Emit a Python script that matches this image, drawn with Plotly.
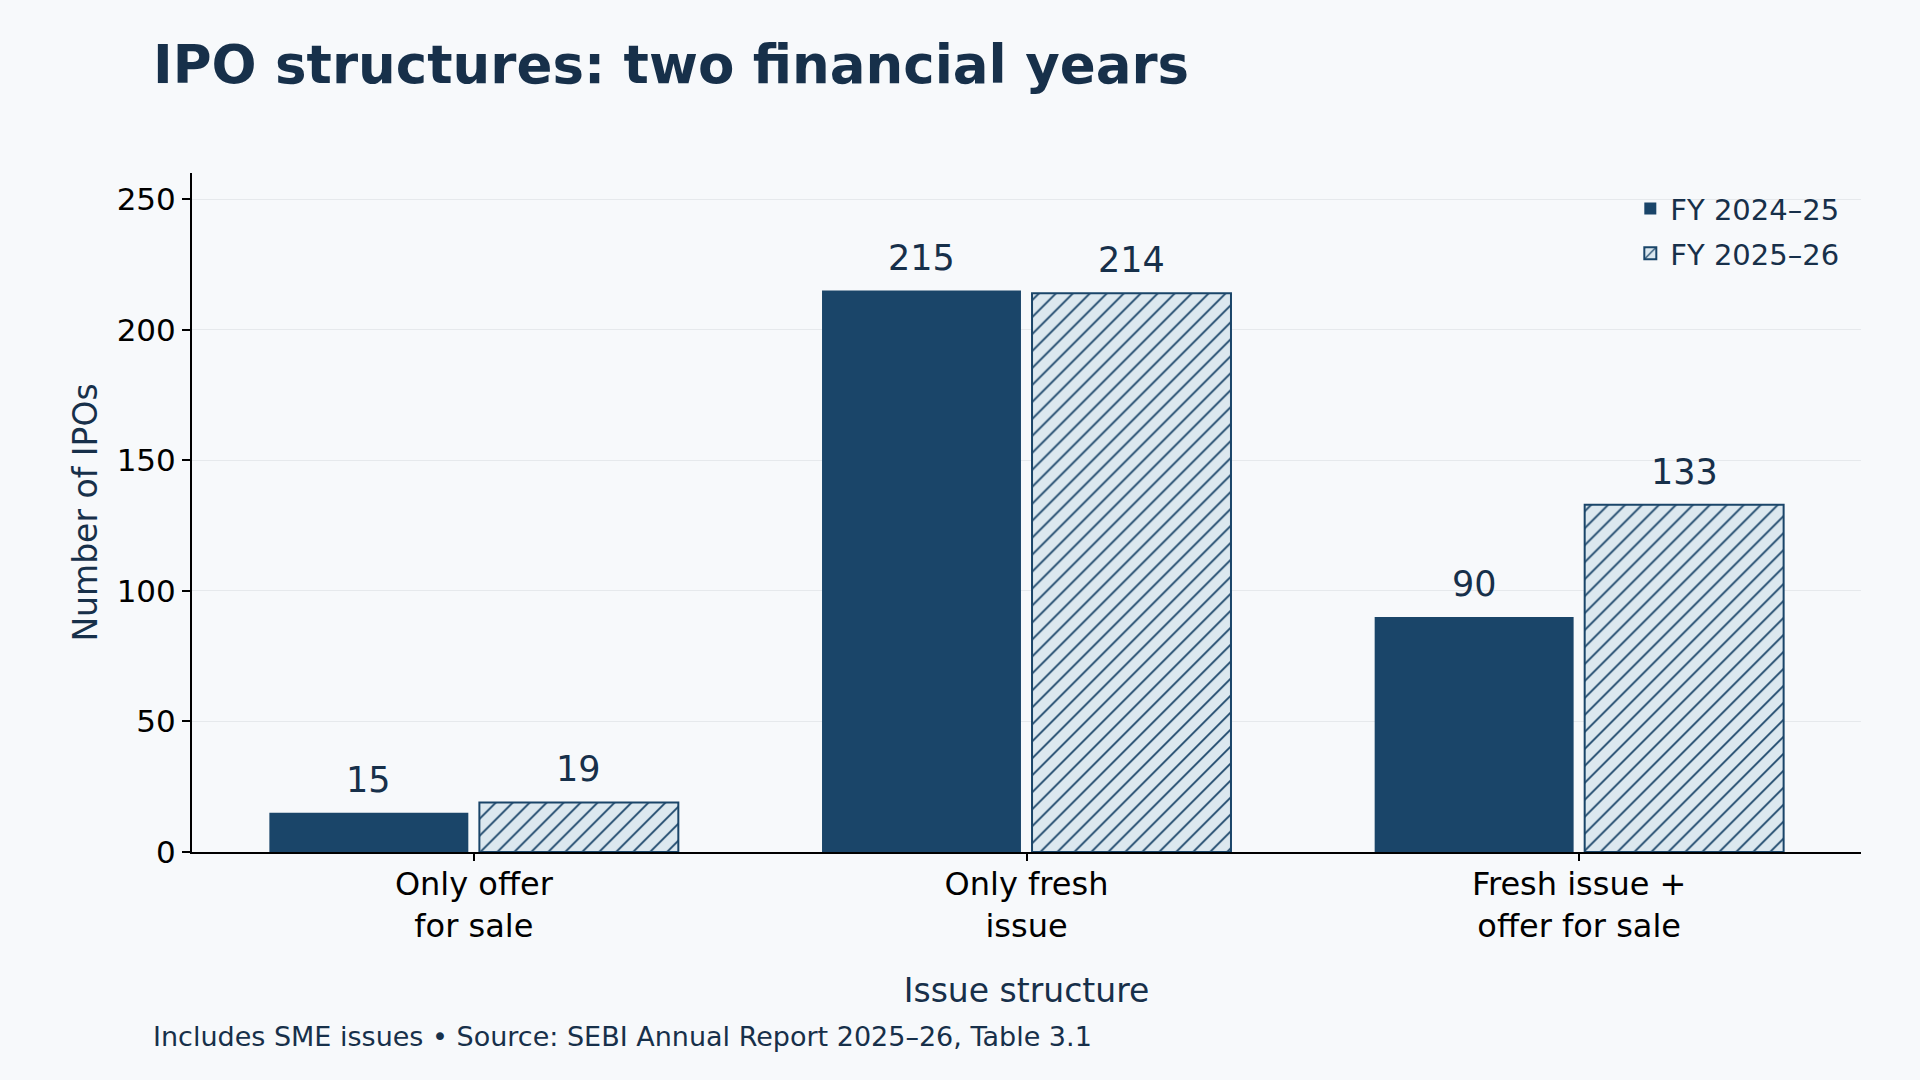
import plotly.graph_objects as pgo

categories = ['Only offer<br>for sale', 'Only fresh<br>issue', 'Fresh issue +<br>offer for sale']
fy_2024_25 = [15, 215, 90]
fy_2025_26 = [19, 214, 133]
series_names = ['FY 2024–25', 'FY 2025–26']
y_ticks = [0, 50, 100, 150, 200, 250]

NAVY = '#1a4569'
INK = '#17304a'
LIGHT = '#dce8ef'
BG = '#f7f9fb'
FONT = 'DejaVu Sans'

xs = list(range(len(categories)))

fig = pgo.Figure()

fig.add_trace(pgo.Bar(
    x=xs,
    y=fy_2024_25,
    name=series_names[0],
    width=0.36,
    offset=-0.37,
    marker=dict(color=NAVY, line=dict(width=0)),
    legendgroup='a',
))
fig.add_trace(pgo.Bar(
    x=xs,
    y=fy_2025_26,
    name=series_names[1],
    width=0.36,
    offset=0.01,
    marker=dict(
        color=LIGHT,
        line=dict(color=NAVY, width=2),
        pattern=dict(shape='/', fgcolor=NAVY, fgopacity=1, size=12,
                     solidity=0.15, fillmode='overlay'),
    ),
    legendgroup='b',
))

# value labels above the bars
for i in xs:
    fig.add_annotation(x=i - 0.19, y=fy_2024_25[i], text=str(fy_2024_25[i]),
                       showarrow=False, yanchor='middle', yshift=33,
                       font=dict(family=FONT, size=35, color=INK))
    fig.add_annotation(x=i + 0.19, y=fy_2025_26[i], text=str(fy_2025_26[i]),
                       showarrow=False, yanchor='middle', yshift=33,
                       font=dict(family=FONT, size=35, color=INK))

# footer note
fig.add_annotation(
    xref='paper', yref='paper', x=-0.0245, y=-0.272,
    xanchor='left', yanchor='middle', showarrow=False,
    text='Includes SME issues • Source: SEBI Annual Report 2025–26, Table 3.1',
    font=dict(family=FONT, size=27, color=INK),
)

fig.update_layout(
    width=1920,
    height=1080,
    barmode='overlay',
    paper_bgcolor=BG,
    plot_bgcolor=BG,
    font=dict(family=FONT, color='black'),
    margin=dict(l=192, r=59, t=173, b=228),
    title=dict(
        text='<b>IPO structures: two financial years</b>',
        x=153 / 1920, xanchor='left', xref='container',
        y=1 - 64 / 1080, yanchor='middle', yref='container',
        font=dict(family=FONT, size=53, color=INK),
    ),
    legend=dict(
        x=0.99, xanchor='right', y=0.985, yanchor='top',
        bgcolor='rgba(0,0,0,0)',
        font=dict(family=FONT, size=29, color=INK),
        tracegroupgap=4,
    ),
    xaxis=dict(
        range=[-0.51, 2.51],
        tickvals=xs,
        ticktext=categories,
        tickfont=dict(family=FONT, size=32, color='black'),
        ticks='outside', ticklen=7, tickwidth=1.5, tickcolor='black',
        ticklabelstandoff=-4,
        showline=True, linecolor='black', linewidth=2,
        showgrid=False, zeroline=False,
        title=dict(text='Issue structure', standoff=35,
                   font=dict(family=FONT, size=33, color=INK)),
    ),
    yaxis=dict(
        range=[0, 260],
        tickvals=y_ticks,
        tickfont=dict(family=FONT, size=31, color='black'),
        ticks='outside', ticklen=8, tickwidth=1.5, tickcolor='black',
        showline=True, linecolor='black', linewidth=2,
        showgrid=True, gridcolor='#e6e9ec', gridwidth=1,
        zeroline=False,
        title=dict(text='Number of IPOs', standoff=9,
                   font=dict(family=FONT, size=33, color=INK)),
    ),
)

fig.write_html('out.html', config={'displayModeBar': False},
               post_script="document.body.style.margin = '0';")
